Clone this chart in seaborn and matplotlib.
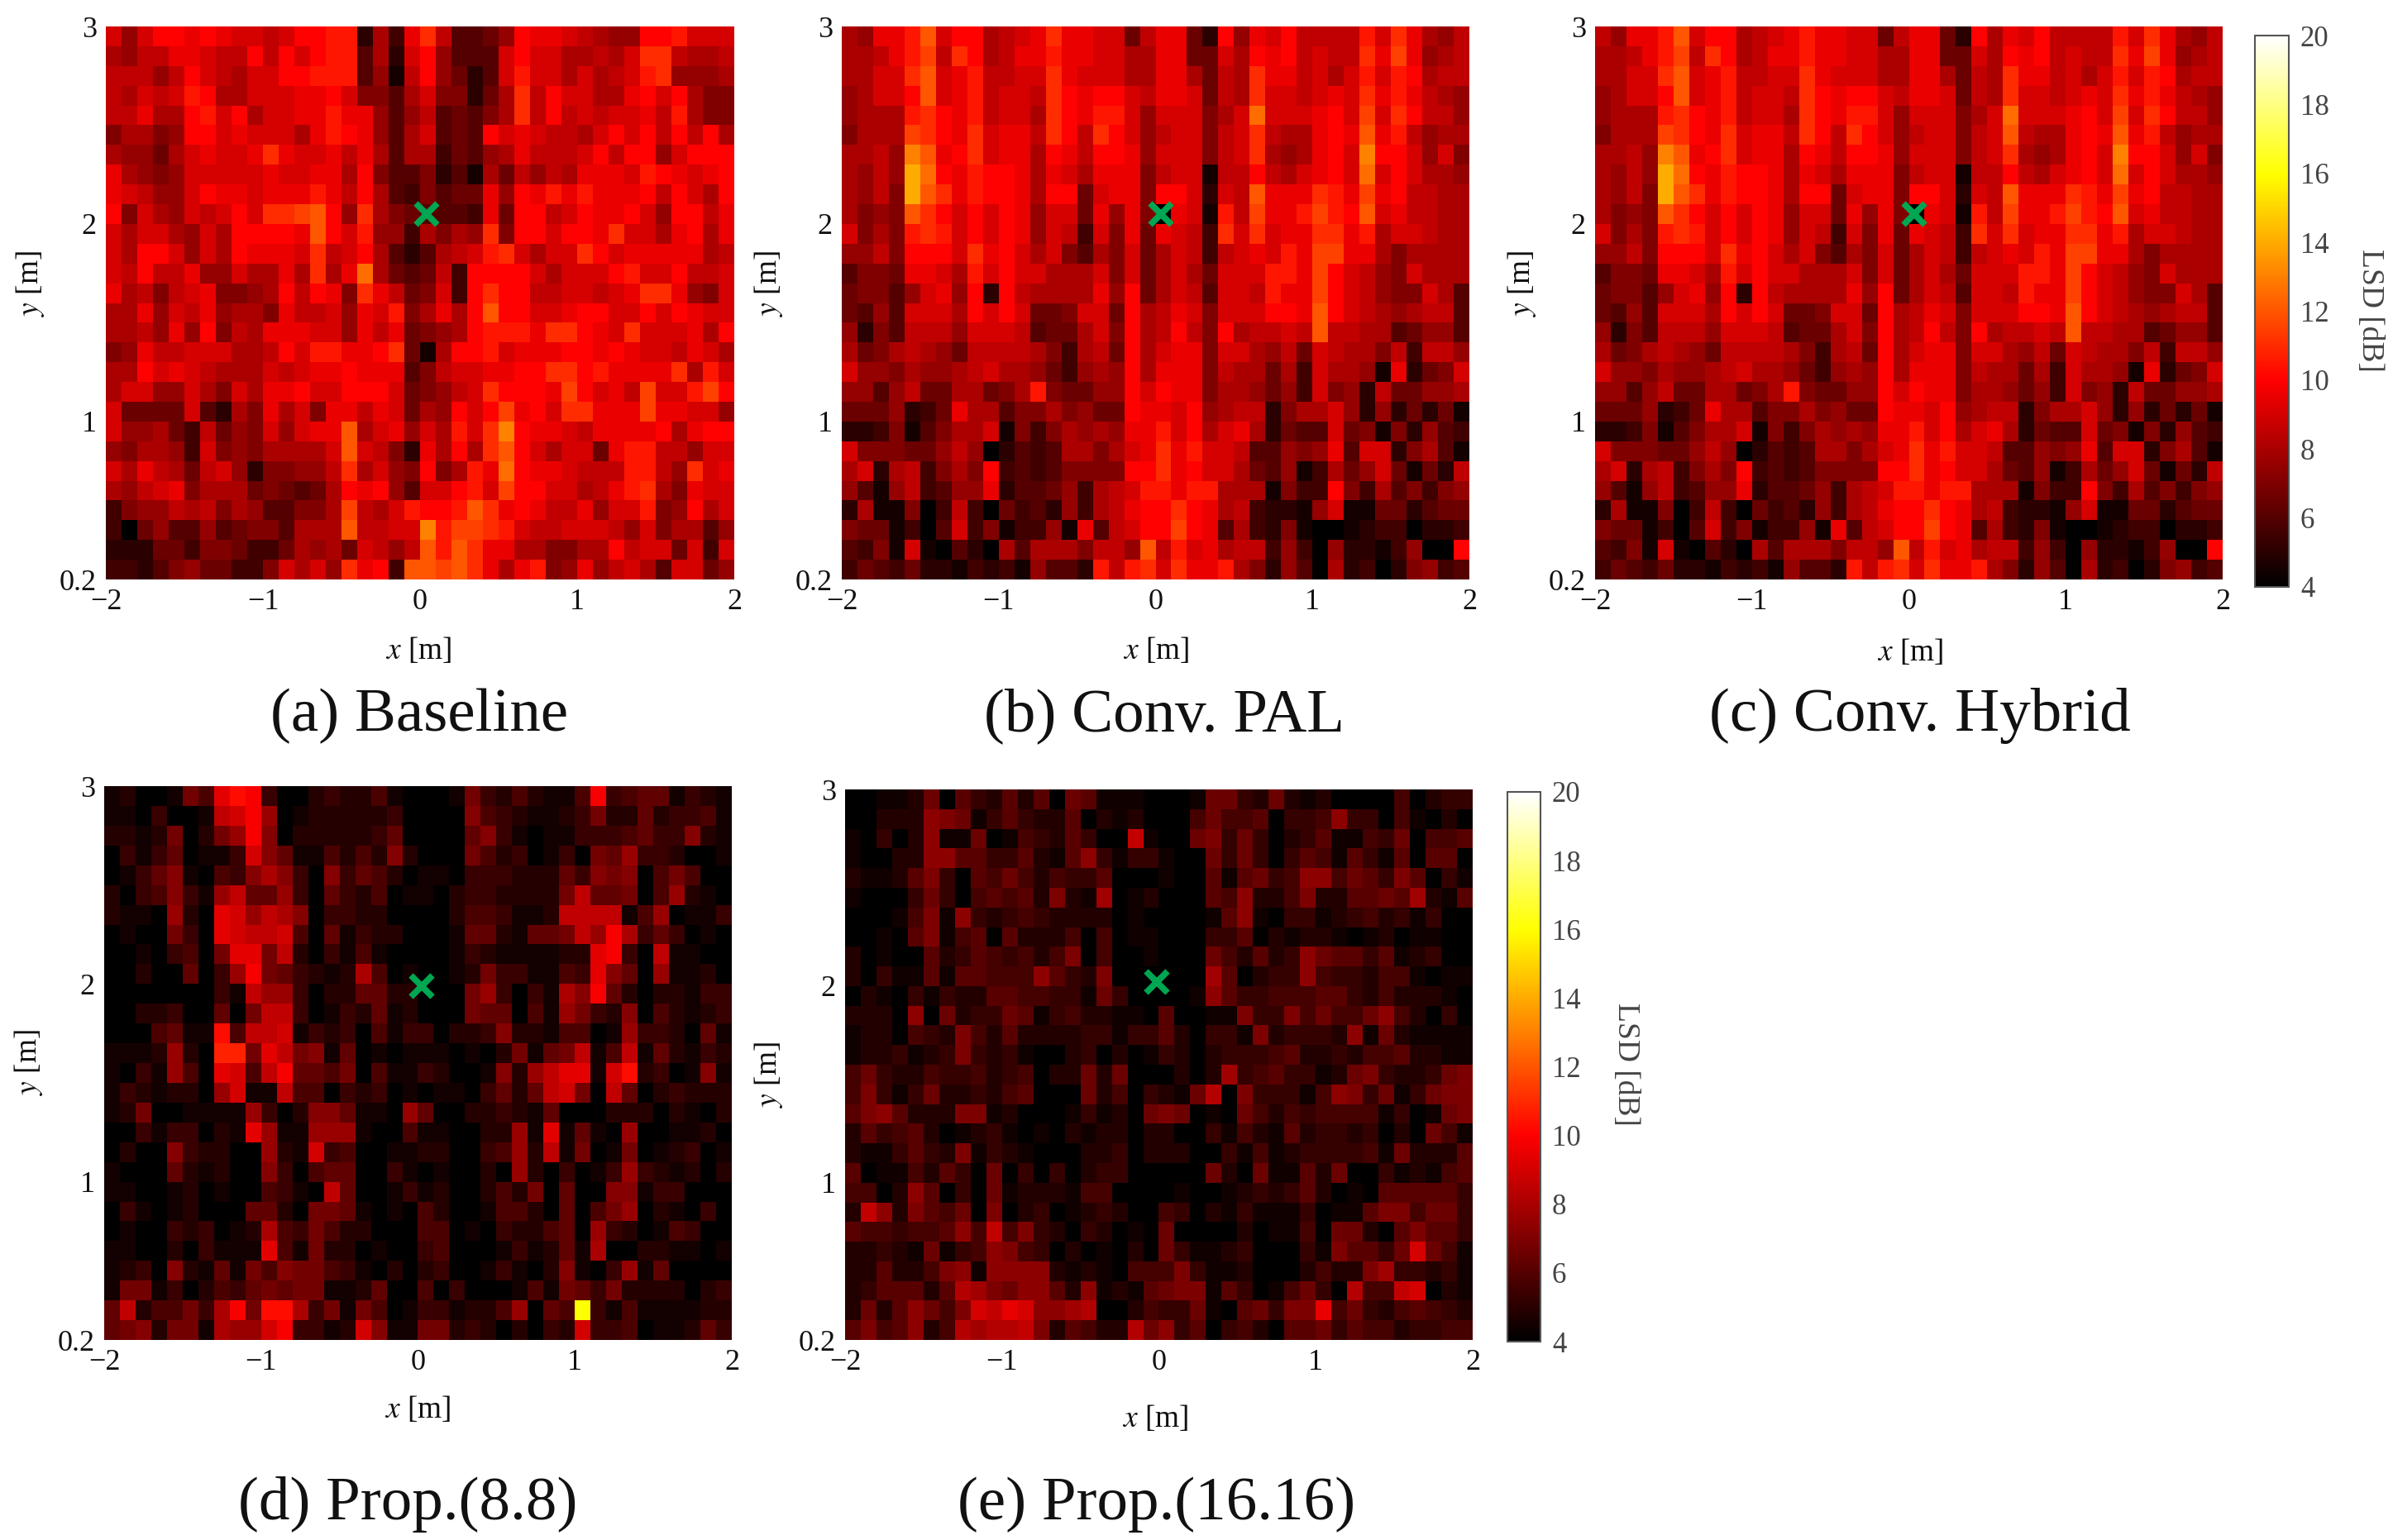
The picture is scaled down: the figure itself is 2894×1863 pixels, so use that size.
import numpy as np
import pandas as pd
import matplotlib
matplotlib.use("Agg")
import matplotlib.pyplot as plt
from matplotlib.colors import LinearSegmentedColormap
import seaborn as sns

# Cell values: one character per cell, read as LSD = 4 + step * int(char, 36) dB
LSD_A = [
"a7accbcbaa9accdd283be94457cbba9877ccdaaa",
"8799bba99c9cacdd482ac7444acaa8898aee9889",
"99979ca98aaccddd4719c7524adaa8a89ade7778",
"98a9adc88aaabbca6648a66258e9caa88bcac866",
"99b88cdac8aabbdbb747945468e9c9a9aab9d866",
"68867ccabaaa8bdcb748a454caba998acac9c9c8",
"87758abaabebaab9b848835478b999ac9cc7accc",
"b8767aaaaabaabb8c6446241859798bbbadcbabc",
"ba977acbbabbbdb9c8436455b7cbdbdbbbc9ca8c",
"c6a87a9acaeefgc7e8654443b5cc9acbbca7cc9b",
"a8aa87a8ccccbgcad7738687e6ccaccbeaa8bc8b",
"a8cca7a8cbbbae9ac842489adea8aaecabbbbb89",
"a9c99b77a88b8e8bh854593cccca8aaacdaac99a",
"b8969ab6678c9cb6eb956a3cecc99aa9abeeb76a",
"88b7a9b7886b99a7bad68b8cgccaabccaacacbaa",
"8897b7c698bbbaa7b9b5678cdddbeecbaeaaab8c",
"67b99aaa889caddbbce518ccdabbbccbcbaa9ba8",
"88caba9888a9abbcbbb469aabbcceecdbbbbe8da",
"8aa77a86a8bbcaaccca5679aecccbfcab9faadfc",
"a5555a4286b8a6bb9ba587cacfbcaeebbbfbbaa7",
"a778539576a7abbg8ab7a8daeicbba9bbbbc8bcc",
"768873a6768888aga962b8c8egca8aa5bdd997aa",
"a8b9859a7266779e8a76c68dbhcbba999dd97eab",
"879ab6888565458cbc74aacdafccaa89bde86baa",
"367798968744668f98adccdgebcb99b7aad67c8a",
"305744745664888g99aaidffeda99aaa97a68847",
"2225536653358785a979gdgebb886688c9aa5a3a",
"33246755336a8a7ebc3ggfgeb8bd67b79a84aa57",
]
LSD_B = [
"87bbdgacc89abebbaa59bb52c7bac9999daeb879",
"889bdf9ec89bbdbbaa88bb55a8cbc9a99ebfb789",
"88aaegabd99aaebaaa88bb8598ebb9a8adadc899",
"78aacgabd9aa9ecbcca9bba598eaa9abaebdb987",
"7888decbd9aa8ecbdda7aaa68ahaaabcafaec997",
"6888fecbeabb9ec9eca79aa69ae988bcbgbd9788",
"8897igbceabb8cb9ccb7aaa69ae878bcaicca7a6",
"8797khcbdccb8ba8bbb69aa199c98abcahaca887",
"8796kgebdccb8cc5abb6cca2a9gbbbedbfbc9988",
"8676gecacacb7aa5b7b60ba1d9fbbdfdcgab9988",
"a686dedacacb7a93a6b5ba93eaeabbeebd8aa988",
"7796cccaebca8a6486a58a939abadbffbb868888",
"4665bba8dacaa888a6a58a85aaaddbfca976a888",
"56647ab7c2c98888b7c58a94aa9dbbfca9766a84",
"5474aaa8caca556aa5c89ba6aaaccbgca9878994",
"72649997aaa94558a6c89c96c899a9g998845774",
"856898759999863895c8abb6aa8795a988693997",
"a77687789a88753787c8bbb6988583a8871b256a",
"774795588568d65577cacbb6887573a672955778",
"5557235b8846686755cbbac78992688a72725251",
"223614688a16368787bbdac8ab82544a56162743",
"a66655797024348868abebdaa944767b4aa26841",
"8a2893686c34346666ccebcaa854713857a51529",
"741793477b24457389addbdd8881633c63846367",
"281160393053427389bccecb8932217a11552455",
"6551304a3613371b49accfcb4832610012330223",
"4361a10420848886997g9dab899373072213700c",
"3543522132317442d9deaebbd862740823026734",
]
LSD_C = [
"97bbdgacc89abdbbaa59bb52c8bac9999daeb879",
"889bdf9ec89bbdbbaa88bb55a8cbc9a99ebfb789",
"88aaegabd99aaebaaa88bb8598ebb9a8adadc899",
"78aacgabd9aa9ecbcca9bba598eaa9abaebdb987",
"7888decbd9aa8ecbdda7aaa68ahaaabcafaec997",
"6888fecbeabb9ec9eca79aa69ag988bcbgbd9788",
"8897igbceabb8cb9ccb7aaa69ae878bcaicca7a6",
"8797khcbdccb8ba8bbb69aa199c98abcahaca887",
"8796kgebdccb8cc5abb6cca2a9gbbbedbfbc9988",
"8676gecacacb7aa5b7b60ba1d9fbbdfdcgab9988",
"a686dedacacb7a93a6b5ba93eaeabbeebd8aa988",
"7796cccaebca8a6486a58a939abadbffbb868888",
"4665bba8dacaa888a6a58a85aaaddbfca976a888",
"56647ab7c2c98888b7c58a94aa9dbbfca9766a84",
"5474aaa8caca556aa5c89ba6aaaccbgca9878994",
"72649997aaa94558a6c89c96c899a9g998845774",
"856898759999863895c8abb6aa8795a988693997",
"a77687789a88753787c8bbb6988583a8871b256a",
"774795588568d65577cacbb6887573a672955778",
"5557235b8846686755cbbac78992688a72725251",
"223614688a16368787bbdac8ab82544a56162743",
"a66655797024348868abebdaa944767b4aa26841",
"8a2893686c34346666ccebcaa854713857a51529",
"741793477b24457389addbdd8881633c63846367",
"281160393053427389bccecb8932217a11552455",
"6551304a3613371b49accfcb4832610012330223",
"4361a10420848886997g9dab899373072213700c",
"3543522132317442d9deaebbd862740823026734",
]
LSD_D = [
"1200164ced300232241000163242114d34551321",
"1103001abd801222223000074321123622523341",
"221260268d702222235000057310113334533721",
"031350113b751142427200064230130658332001",
"0135710437973073542011033322253767046400",
"20347318a558305324011023322226a556048210",
"2110820cb8a970332200002443112aaaa1480113",
"0100630cbaab405132200015521556a8d9353010",
"00103406cc6a2031410000132111122cd30a1100",
"002005038d653212940100126331143c75081120",
"000000031a883022552200068303197d52022133",
"0022300506aa3013251200065504186327042123",
"0004511e4aab1323041330223722144018332051",
"1112820ff6ca671501011101026156a14a152132",
"1031840cb4ad5546041132001728acc1be230171",
"13212208b11a4403230101103525ab60a5023222",
"1260011118302775110850022321500022202102",
"003133021c811888100411002281c15108001120",
"0200732200821b34001122003482a16016012301",
"1000521200730455003101002082030138321202",
"11001201004310a5001312002426050077133000",
"0310120005520665101042001442050468021030",
"0100323012943642200044010322450832014300",
"1100203111c41622010034000131251900221101",
"1230721516476643102023001310271038150000",
"1661302435656611250040300014165362222023",
"5a244639d6ee936164013312248054o314111122",
"5672661988bd3312b7116623202032b334011253",
]
LSD_E = [
"0011260532525065111000166326212000040233",
"0022287613532250212000464450334833041020",
"103028116014325300b100673630235114360445",
"1002288553352158313310063630354153150550",
"2112573054642433500010051563488465375031",
"1000363045452721901200054822472255659215",
"0001471832343222201000015810331234231300",
"0010571450522240401100033502122101201100",
"2010052354342470400100064252386553512300",
"2031151554448532700000095023384332441011",
"0210313225544331630000185334445532422210",
"2220806233651342211050011733746446842030",
"1220432742522223313352033172333281621111",
"1223123732310023020132023334522324452211",
"4632243342340226260002029345331267322367",
"47313622324500062403216a0733314873613677",
"5785222771200013120676010642434444130167",
"2534520123101021220220031421523323020641",
"2113532713210002230222003141233334162225",
"5011425306030302330000062061152600312145",
"4402850306122214400001001232352010555553",
"2b82754607023012320043021311130115774663",
"544344584b473203201060000201140662057553",
"2232161348743020102063112300031 75536c641".replace(" ", ""),
"2252247818888212104447311200024227933231",
"2355525a976885281215677153014630a44bc021",
"26258647cbdc889a00243361056377d463245432",
"5745824a9aab725422a683503420556354423344",
]
CODE_STEP = [0.5, 0.5, 0.5, 0.45, 0.42]
CAPTIONS = ["(a) Baseline", "(b) Conv. PAL", "(c) Conv. Hybrid", "(d) Prop.(8.8)", "(e) Prop.(16.16)"]
SOURCE_X = [0.044, 0.034, 0.034, 0.024, -0.015]
SOURCE_Y = [2.05, 2.05, 2.05, 1.99, 2.02]
X_TICKS = [-2, -1, 0, 1, 2]
Y_TICKS = [3, 2, 1, 0.2]
CBAR_TICKS = [4, 6, 8, 10, 12, 14, 16, 18, 20]

W, H = 2894, 1863
sns.set_theme(style="white")
plt.rcParams["font.family"] = ["Liberation Serif", "DejaVu Serif"]
plt.rcParams["mathtext.fontset"] = "stix"

hot = LinearSegmentedColormap.from_list(
    "matlab_hot", [(0, "#000000"), (0.375, "#ff0000"), (0.75, "#ffff00"), (1, "#ffffff")], N=256)

def decode(rows, step):
    out = []
    for r in rows:
        vals = [4 + (8.0 if c == "o" else 1.0) * 0 + (step if c != "o" else 0.5) * int(c, 36) for c in (r + r[-1])[:40]]
        out.append(vals)
    return out

def box(l, t, r, b):
    return [l / W, 1 - b / H, (r - l) / W, (b - t) / H]

fig = plt.figure(figsize=(W / 100, H / 100), dpi=100, facecolor="white")

panels = [
    (LSD_A, (128, 32, 888, 701), (507, 866), (506, 787), (37, 343)),
    (LSD_B, (1018, 32, 1777, 701), (1408, 866), (1398, 787), (930, 343)),
    (LSD_C, (1929, 32, 2688, 701), (2322, 866), (2310, 789), (1840, 343)),
    (LSD_D, (126, 951, 885, 1621), (493, 1820), (505, 1705), (35, 1285)),
    (LSD_E, (1022, 955, 1781, 1621), (1399, 1820), (1397, 1716), (930, 1300)),
]
cbars = {2: (2727, 43, 2768, 710, (2866, 375)), 4: (1823, 958, 1863, 1623, (1966, 1287))}

for i, (rows, pos, cap, xl, yl) in enumerate(panels):
    frame = pd.DataFrame(decode(rows, CODE_STEP[i]))
    ax = fig.add_axes(box(*pos))
    has_cb = i in cbars
    kw = {}
    if has_cb:
        c = cbars[i]
        cax = fig.add_axes(box(*c[:4]))
        kw = dict(cbar_ax=cax, cbar_kws=dict(ticks=CBAR_TICKS))
    sns.heatmap(frame, ax=ax, cmap=hot, vmin=4, vmax=20, cbar=has_cb, square=False,
                xticklabels=False, yticklabels=False, **kw)
    ax.set_xticks([(v + 2) * 10 for v in X_TICKS])
    ax.set_xticklabels([str(v).replace("-", "\u2212") for v in X_TICKS])
    ax.set_yticks([(3 - v) * 10 for v in Y_TICKS])
    ax.set_yticklabels([f"{v:g}" for v in Y_TICKS], rotation=0)
    ax.tick_params(axis="both", length=0, labelsize=26, labelcolor="#111111", pad=8)
    ax.plot([(SOURCE_X[i] + 2) * 10], [(3 - SOURCE_Y[i]) * 10], marker="x", color="#00A651",
            ms=19, mew=5.5, ls="none")
    fig.text(cap[0] / W, 1 - cap[1] / H, CAPTIONS[i], fontsize=54, ha="center", va="center", color="#111111")
    fig.text(xl[0] / W, 1 - xl[1] / H, "$x$ [m]", fontsize=27, ha="center", va="center", color="#111111")
    fig.text(yl[0] / W, 1 - yl[1] / H, "$y$ [m]", fontsize=27, ha="center", va="center", rotation=90, color="#111111")
    if has_cb:
        c = cbars[i]
        cb = ax.collections[0].colorbar
        cb.outline.set_edgecolor("#555555")
        cb.outline.set_linewidth(1.5)
        cax.tick_params(axis="y", direction="in", length=7, width=1.2, color="#444444",
                        labelsize=25, labelcolor="#444444", pad=10, right=True)
        fig.text(c[4][0] / W, 1 - c[4][1] / H, "LSD [dB]", fontsize=27, rotation=270,
                 ha="center", va="center", color="#444444")

fig.savefig("out.png", dpi=100, facecolor="white")
